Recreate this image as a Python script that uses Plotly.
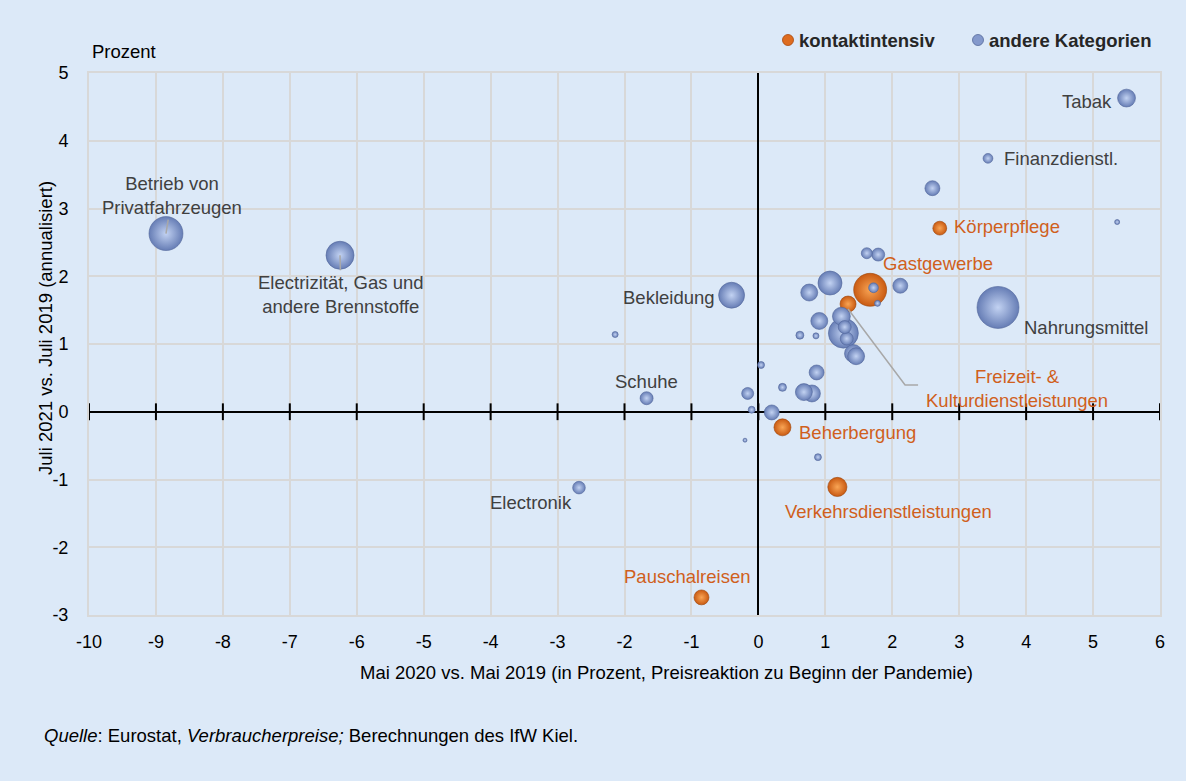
import plotly.graph_objects as go
import numpy as np

# ---------------- data ----------------
# kontaktintensive Kategorien
k_names = ["Gastgewerbe", "Freizeit- &<br>Kulturdienstleistungen", "Körperpflege",
           "Beherbergung", "Verkehrsdienstleistungen", "Pauschalreisen"]
k_x = [1.67, 1.34, 2.71, 0.36, 1.18, -0.85]
k_y = [1.80, 1.59, 2.71, -0.23, -1.11, -2.74]
k_w = [68, 16, 12, 18, 23, 14]

# andere Kategorien
a_names = ["Tabak", "Finanzdienstl.", "", "", "Nahrungsmittel",
           "Betrieb von<br>Privatfahrzeugen", "Electrizität, Gas und<br>andere Brennstoffe",
           "Bekleidung", "", "Schuhe", "Electronik",
           "", "", "", "", "", "", "", "", "", "",
           "", "", "", "", "", "", "", "", "", "", "", "", "", "", "", ""]
a_x = [5.50, 3.43, 2.60, 5.36, 3.58,
       -8.85, -6.25,
       -0.40, -2.14, -1.67, -2.68,
       -0.16, -0.10, -0.20, 0.04, 0.20, 0.36, 0.87, 0.68, 0.80, 0.89,
       1.62, 1.79, 1.07, 0.76, 2.12, 1.72, 1.78, 1.24, 0.91, 0.62, 0.86, 1.27, 1.29, 1.32, 1.42, 1.46]
a_y = [4.63, 3.74, 3.30, 2.80, 1.54,
       2.63, 2.31,
       1.72, 1.14, 0.20, -1.12,
       0.27, 0.03, -0.42, 0.69, -0.01, 0.36, 0.58, 0.29, 0.27, -0.67,
       2.34, 2.32, 1.90, 1.76, 1.86, 1.83, 1.60, 1.41, 1.34, 1.13, 1.12, 1.16, 1.25, 1.08, 0.86, 0.82]
a_w = [20, 6, 14, 1.6, 110,
       72, 49,
       42, 2.3, 10.6, 10,
       9, 3, 1, 3, 14, 4, 14, 18, 18, 3,
       7.6, 10.6, 36, 18, 14, 6, 2.3, 20, 18, 4, 2.3, 56, 10.6, 10.6, 20, 18]

x_ticks = list(range(-10, 7))
y_ticks = list(range(-3, 6))

legend_names = ["kontaktintensiv", "andere Kategorien"]

# ---------------- styling ----------------
BG = "#dce9f8"
GRID = "#d8d8d8"
ORANGE_LBL = "#d0601c"
GRAY_LBL = "#404040"
FONT = "Liberation Sans, Arial, sans-serif"
LBL_SIZE = 18.5
TICK_SIZE = 18
TITLE_SIZE = 18.5

X_RANGE = [-10, 6]
Y_RANGE = [-3, 5]
L, R, T, B = 89, 26, 73, 166
W, H = 1186, 781
px_per_x = (W - L - R) / (X_RANGE[1] - X_RANGE[0])
px_per_y = (H - T - B) / (Y_RANGE[1] - Y_RANGE[0])


def diam(w):
    return [4.0 * np.sqrt(v) for v in w]


fig = go.Figure()

# orange bubbles first
order_k = np.argsort(diam(k_w))[::-1]
fig.add_trace(go.Scatter(
    x=[k_x[i] for i in order_k], y=[k_y[i] for i in order_k],
    mode="markers", name=legend_names[0],
    text=[k_names[i].replace("<br>", " ") for i in order_k],
    marker=dict(size=[diam(k_w)[i] for i in order_k], sizemode="diameter",
                color="#c95a12", opacity=1,
                gradient=dict(type="radial", color="#f9a555"),
                line=dict(width=0.6, color="#9c4509")),
    hovertemplate="%{text}<br>%{x}, %{y}<extra></extra>", showlegend=False))

order_a = np.argsort(diam(a_w))[::-1]
fig.add_trace(go.Scatter(
    x=[a_x[i] for i in order_a], y=[a_y[i] for i in order_a],
    mode="markers", name=legend_names[1],
    text=[a_names[i].replace("<br>", " ") for i in order_a],
    marker=dict(size=[diam(a_w)[i] for i in order_a], sizemode="diameter",
                color="#667db5", opacity=1,
                gradient=dict(type="radial", color="#c2d2f2"),
                line=dict(width=0.6, color="#53669a")),
    hovertemplate="%{text}<br>%{x}, %{y}<extra></extra>", showlegend=False))

# tick marks crossing the horizontal zero axis
fig.add_trace(go.Scatter(
    x=x_ticks, y=[0] * len(x_ticks), mode="markers",
    marker=dict(symbol="line-ns-open", size=12, color="black",
                line=dict(width=2, color="black")),
    hoverinfo="skip", showlegend=False, cliponaxis=False))

# leader line for Freizeit- & Kulturdienstleistungen (pixel offsets -> data)
fi = 1
fx, fy = k_x[fi], k_y[fi]
fig.add_trace(go.Scatter(
    x=[fx, fx + 57 / px_per_x, fx + 70 / px_per_x],
    y=[fy - 5 / px_per_y, fy - 81 / px_per_y, fy - 81 / px_per_y],
    mode="lines", line=dict(color="#a8a8a8", width=1.5),
    hoverinfo="skip", showlegend=False))

# ---------------- labels ----------------
# (index, xshift, yshift, xanchor)
k_label_pos = {
    0: (11, 26, "left"),
    1: (169, -84, "center"),
    2: (12, 2, "left"),
    3: (15, -5, "left"),
    4: (51, -25, "center"),
    5: (-14, 21, "center"),
}
a_label_pos = {
    0: (-13, -3, "right"),
    1: (14, 0, "left"),
    4: (24, -20, "left"),
    7: (-15, -2, "right"),
    9: (0, 17, "center"),
    10: (-5, -15, "right"),
}
annotations = []
for i, (xs, ys, xa) in k_label_pos.items():
    annotations.append(dict(x=k_x[i], y=k_y[i], text=k_names[i], showarrow=False,
                            xshift=xs, yshift=ys, xanchor=xa, yanchor="middle",
                            font=dict(size=LBL_SIZE, color=ORANGE_LBL, family=FONT)))
for i, (xs, ys, xa) in a_label_pos.items():
    annotations.append(dict(x=a_x[i], y=a_y[i], text=a_names[i], showarrow=False,
                            xshift=xs, yshift=ys, xanchor=xa, yanchor="middle",
                            font=dict(size=LBL_SIZE, color=GRAY_LBL, family=FONT)))
# labels with short leader lines
annotations.append(dict(x=a_x[5], y=a_y[5], text=a_names[5], showarrow=True,
                        arrowhead=0, arrowwidth=1.5, arrowcolor="#a8a8a8",
                        ax=6, ay=-38, standoff=0,
                        font=dict(size=LBL_SIZE, color=GRAY_LBL, family=FONT)))
annotations.append(dict(x=a_x[6], y=a_y[6], text=a_names[6], showarrow=True,
                        arrowhead=0, arrowwidth=1.5, arrowcolor="#a8a8a8",
                        ax=1, ay=39, standoff=0,
                        font=dict(size=LBL_SIZE, color=GRAY_LBL, family=FONT)))

# axis titles & texts
annotations += [
    dict(xref="paper", yref="paper", x=0.001, y=1 + (T - 52) / (H - T - B),
         text="Prozent", showarrow=False, xanchor="left", yanchor="middle",
         font=dict(size=TITLE_SIZE, color="black", family=FONT)),
    dict(xref="paper", yref="paper", x=(45 - L) / (W - L - R), y=(H - B - 328) / (H - T - B),
         text="Juli 2021 vs. Juli 2019 (annualisiert)", textangle=-90, showarrow=False,
         xanchor="center", yanchor="middle",
         font=dict(size=TITLE_SIZE, color="black", family=FONT)),
    dict(xref="paper", yref="paper", x=(666 - L) / (W - L - R), y=-(672 - (H - B)) / (H - T - B),
         text="Mai 2020 vs. Mai 2019 (in Prozent, Preisreaktion zu Beginn der Pandemie)",
         showarrow=False, xanchor="center", yanchor="middle",
         font=dict(size=TITLE_SIZE, color="black", family=FONT)),
    dict(xref="paper", yref="paper", x=(42 - L) / (W - L - R), y=-(735 - (H - B)) / (H - T - B),
         text="<i>Quelle</i>: Eurostat, <i>Verbraucherpreise;</i> Berechnungen des IfW Kiel.",
         showarrow=False, xanchor="left", yanchor="middle",
         font=dict(size=TITLE_SIZE, color="black", family=FONT)),
]

# custom legend
leg_y = 1 + (T - 40) / (H - T - B)
leg_items = [(788, 797, legend_names[0], "#de6c20", "#a8470c"),
             (978, 987, legend_names[1], "#8499cc", "#56699a")]
shapes = []
for dot_x, txt_x, name, fc, lc in leg_items:
    xp = (dot_x - L) / (W - L - R)
    shapes.append(dict(type="circle", xref="paper", yref="paper",
                       xsizemode="pixel", ysizemode="pixel",
                       xanchor=xp, yanchor=leg_y, x0=-5.5, x1=5.5, y0=-5.5, y1=5.5,
                       fillcolor=fc, line=dict(color=lc, width=0.8)))
    annotations.append(dict(xref="paper", yref="paper", x=(txt_x - L) / (W - L - R), y=leg_y,
                            text="<b>" + name + "</b>", showarrow=False,
                            xanchor="left", yanchor="middle",
                            font=dict(size=LBL_SIZE, color="#262626", family=FONT)))

fig.update_layout(
    width=W, height=H,
    margin=dict(l=L, r=R, t=T, b=B),
    paper_bgcolor=BG, plot_bgcolor=BG,
    font=dict(family=FONT, size=TICK_SIZE, color="black"),
    showlegend=False,
    annotations=annotations,
    shapes=shapes,
    xaxis=dict(range=X_RANGE, tickvals=x_ticks, ticktext=[str(v) for v in x_ticks],
               showgrid=True, gridcolor=GRID, gridwidth=2,
               zeroline=True, zerolinecolor="black", zerolinewidth=2,
               showline=True, linecolor=GRID, linewidth=2, mirror=True,
               ticks="", ticklabelstandoff=9,
               tickfont=dict(size=TICK_SIZE, color="black", family=FONT)),
    yaxis=dict(range=Y_RANGE, tickvals=y_ticks, ticktext=[str(v) for v in y_ticks],
               showgrid=True, gridcolor=GRID, gridwidth=2,
               zeroline=True, zerolinecolor="black", zerolinewidth=2,
               showline=True, linecolor=GRID, linewidth=2, mirror=True,
               ticks="", ticklabelstandoff=15,
               tickfont=dict(size=TICK_SIZE, color="black", family=FONT)),
)

fig.write_html("out.html", config={"displayModeBar": False},
               post_script="document.body.style.margin='0';document.body.style.background='%s';" % BG)
